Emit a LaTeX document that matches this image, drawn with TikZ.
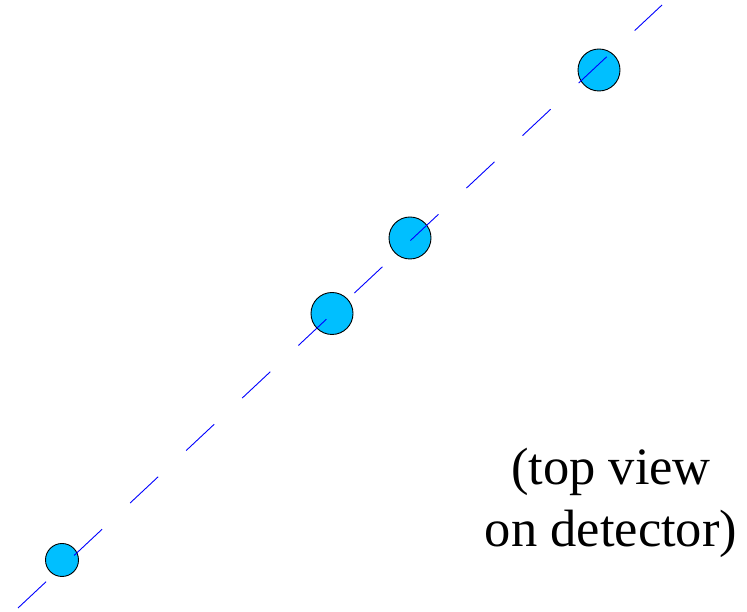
\documentclass[tikz,border=0pt]{standalone}
\usepackage{fontspec}
\setmainfont{Liberation Serif}
\usetikzlibrary{positioning, calc}
\definecolor{hitblue}{HTML}{00BFFF}
\definecolor{trackblue}{HTML}{0000FF}

\begin{document}
\begin{tikzpicture}[
  x=1pt, y=1pt,
  hit/.style={circle, draw=black, line width=0.9pt, fill=hitblue,
    minimum size=#1, inner sep=0pt},
  track/.style={trackblue, line width=0.9pt, dash pattern=on 38.4pt off 38.4pt},
  lbl/.style={font=\fontsize{52.5}{62}\selectfont, text=black, align=center, inner sep=0pt},
]

% Background / bounding box
\useasboundingbox (0,0) rectangle (747,612);

% === Hits on the detector layers ===
\node[hit=33pt] (h1) at (62,52) {};
\node[hit=42pt] (h2) at (332,298.5) {};
\node[hit=42pt] (h3) at (410,374) {};
\node[hit=42pt] (h4) at (599,542) {};

% === Straight track through the hits ===
\coordinate (start) at (18,4);
\coordinate (stop) at (662,607);
\draw[track] (start) -- (stop);

% === Label ===
\node[lbl, anchor=base] (view) at (611,65)
  {(top view\\on detector)};

\end{tikzpicture}
\end{document}
